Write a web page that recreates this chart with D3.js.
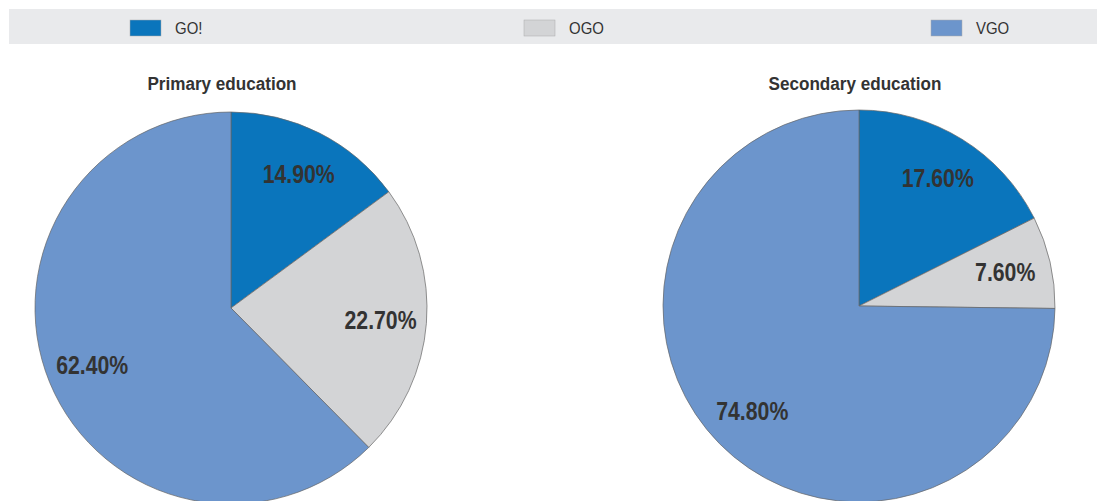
<!DOCTYPE html>
<html><head><meta charset="utf-8">
<script src="https://cdn.jsdelivr.net/npm/d3@7"></script>
<style>
body{margin:0;background:#fff;}
svg{display:block;}
</style></head><body>
<svg id="chart" width="1097" height="501"></svg>
<script>
const categories = ["GO!", "OGO", "VGO"];
const colors = ["#0a75bc", "#d3d4d6", "#6c95cc"];
const panelTitles = ["Primary education", "Secondary education"];
const primaryValues = [14.9, 22.7, 62.4];
const secondaryValues = [17.6, 7.6, 74.8];
const valueLabels = [["14.90%", "22.70%", "62.40%"], ["17.60%", "7.60%", "74.80%"]];

const svg = d3.select("#chart");
const fontFam = "'Liberation Sans Narrow', 'Arial Narrow', 'Liberation Sans', Arial, sans-serif";

// legend band
svg.append("rect").attr("x", 9).attr("y", 9).attr("width", 1088).attr("height", 35).attr("fill", "#e9eaec");
const legendX = d3.scaleOrdinal().domain(categories).range([130, 524, 931]);
const lg = svg.selectAll("g.leg").data(categories).enter().append("g")
  .attr("transform", d => `translate(${legendX(d)},20)`);
lg.append("rect").attr("width", 31).attr("height", 16)
  .attr("fill", (d, i) => colors[i]).attr("stroke", "#aaa").attr("stroke-width", 0.5);
lg.append("text").attr("transform", "translate(45,14) scale(0.88,1)").text(d => d)
  .attr("font-family", fontFam).attr("font-size", 17).attr("fill", "#333");

const pie = d3.pie().sort(null).value(d => d);
const arc = d3.arc().innerRadius(0).outerRadius(196);
const labelArc = d3.arc().innerRadius(150).outerRadius(150);

const panels = [
  {cx: 231, cy: 308, tx: 222, values: primaryValues},
  {cx: 859, cy: 306, tx: 855, values: secondaryValues}
];

panels.forEach((p, pi) => {
  svg.append("text").attr("transform", `translate(${p.tx},90) scale(0.9,1)`).attr("text-anchor", "middle")
    .attr("font-family", fontFam).attr("font-weight", "bold").attr("font-size", 19)
    .attr("fill", "#333").text(panelTitles[pi]);
  const g = svg.append("g").attr("transform", `translate(${p.cx},${p.cy})`);
  const arcs = pie(p.values);
  g.selectAll("path").data(arcs).enter().append("path")
    .attr("d", arc).attr("fill", (d, i) => colors[i])
    .attr("stroke", "#666").attr("stroke-width", 0.7);
  g.selectAll("text").data(arcs).enter().append("text")
    .attr("transform", d => `translate(${labelArc.centroid(d)}) scale(0.85,1)`)
    .attr("text-anchor", "middle").attr("dy", "0.36em")
    .attr("font-family", fontFam).attr("font-weight", "bold").attr("font-size", 25)
    .attr("fill", "#333").text((d, i) => valueLabels[pi][i]);
});
</script>
</body></html>
